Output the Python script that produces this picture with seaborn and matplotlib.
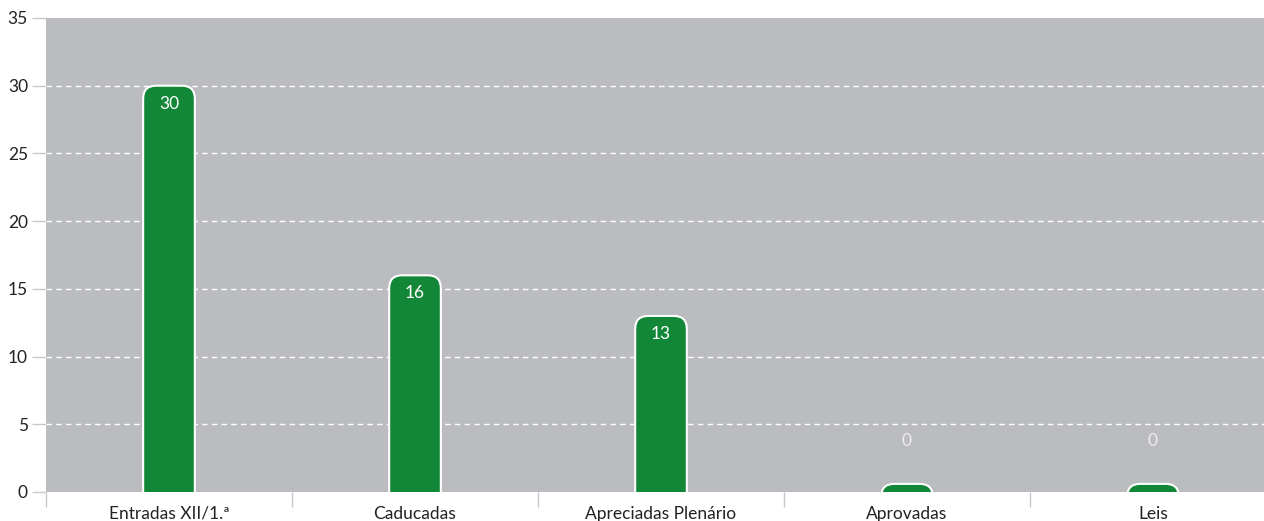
import numpy as np
import pandas as pd
import matplotlib
matplotlib.use("Agg")
import matplotlib.pyplot as plt
from matplotlib.patches import FancyBboxPatch
import seaborn as sns

categories = ["Entradas XII/1.ª", "Caducadas", "Apreciadas Plenário", "Aprovadas", "Leis"]
values = [30, 16, 13, 0, 0]
y_ticks = [0, 5, 10, 15, 20, 25, 30, 35]

GREEN = "#138738"
BG = "#bbbcc0"

sns.set_theme(style="white")
plt.rcParams["font.family"] = ["Lato", "DejaVu Sans"]

df = pd.DataFrame({"categoria": categories, "valor": values})

fig = plt.figure(figsize=(12.64, 5.21), dpi=100)
ax = fig.add_axes([46 / 1264, 29 / 521, 1230 / 1264, 474 / 521])
ax.set_facecolor(BG)

sns.barplot(data=df, x="categoria", y="valor", color=GREEN, width=0.21,
            saturation=1, ax=ax, zorder=3)

ax.set_xlim(-0.5, len(categories) - 0.5)
ax.set_ylim(0, 35)

# swap the plain bars for rounded-top ones; bottom sits below the axis so
# only the top corners show
px_per_x = 246.0
px_per_y = 474.0 / 35.0
radius_px = 13
rx = radius_px / px_per_x
ry = radius_px / px_per_y
min_stub = 0.6
for patch, v in zip(list(ax.patches), values):
    x0 = patch.get_x()
    w = patch.get_width()
    top = max(v, min_stub)
    patch.remove()
    rb = FancyBboxPatch((x0, -2), w, top + 2,
                        boxstyle=f"round,pad=0,rounding_size={rx}",
                        mutation_aspect=ry / rx,
                        facecolor=GREEN, edgecolor="white", linewidth=1.5,
                        zorder=3, clip_on=True)
    ax.add_patch(rb)

# value labels
for i, v in enumerate(values):
    if v > 0:
        ax.text(i, v - 18 / px_per_y, str(v), ha="center", va="center",
                color="white", fontsize=12.5, zorder=4)
    else:
        ax.text(i, 3.75, str(v), ha="center", va="center",
                color="#eeeeee", fontsize=12.5, zorder=4)

# grid
for y in y_ticks[1:-1]:
    ax.axhline(y, color="white", linestyle=(0, (4, 3)), linewidth=1, zorder=1)

for s in ax.spines.values():
    s.set_visible(False)

ax.set_yticks(y_ticks)
ax.set_yticklabels([str(t) for t in y_ticks])
ax.tick_params(axis="y", length=10, width=1, color="#c8c8c8", pad=3,
               labelsize=12.5, labelcolor="#222222", left=True)

ax.set_xticks(range(len(categories)))
ax.set_xticklabels(categories)
ax.set_xticks(np.arange(-0.5, len(categories) - 0.5, 1.0), minor=True)
ax.tick_params(axis="x", which="major", length=0, pad=10,
               labelsize=12.5, labelcolor="#222222")
ax.tick_params(axis="x", which="minor", length=11, width=1,
               color="#c8c8c8", bottom=True)

ax.set_xlabel("")
ax.set_ylabel("")

fig.savefig("out.png", dpi=100, facecolor="white")
